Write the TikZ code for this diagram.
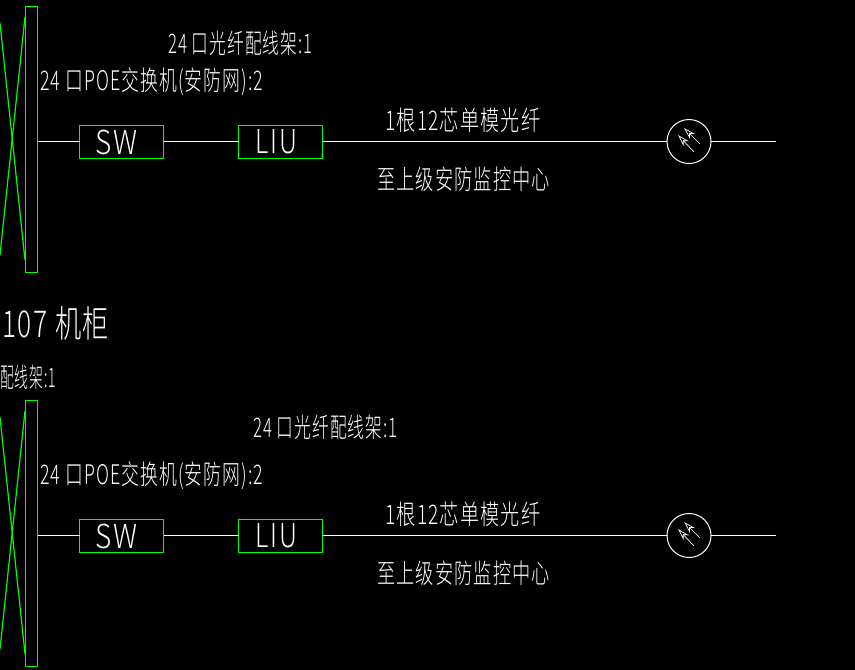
\documentclass[tikz,border=0pt]{standalone}
\usepackage{fontspec}
\newfontfamily\cadfont[LetterSpace=6]{Noto Sans CJK SC Light}
\usetikzlibrary{arrows.meta}
\begin{document}
\begin{tikzpicture}[x=1pt,y=-1pt,white,line width=1pt,
       rack/.style={rectangle,draw=cadgreen,minimum width=12pt,minimum height=266pt,inner sep=0pt,outer sep=0pt},
       unit/.style={rectangle,draw=cadgreen,minimum width=84pt,minimum height=33pt,inner sep=0pt,outer sep=0pt},
       port/.style={circle,draw=white,minimum size=44pt,inner sep=0pt,outer sep=0pt},
       note/.style={anchor=west,inner sep=0pt,text=white,font=\cadfont\fontsize{27}{27}\selectfont},
       tag/.style={inner sep=0pt,text=white,font=\cadfont\fontsize{33}{33}\selectfont},
       cross/.style={draw=cadgreen,line width=1.2pt},
       ray/.style={-{Stealth[open,length=12pt,width=7pt]},line width=.7pt}]
   \definecolor{cadgreen}{RGB}{0,255,0}
   \clip (0,0) rectangle (855,670);
   \fill[black] (0,0) rectangle (855,670);
   % the two identical rows
   \foreach \row/\rowy in {a/0,b/394}{
     \begin{scope}[yshift=-\rowy pt]
       \node [rack] (rack\row) at (31.5,139.3) {};
       \node [unit] (sw\row) at (121.5,141.5) {};
       \node [unit] (liu\row) at (280.5,141.5) {};
       \node [tag,xscale=.85] (swtext\row) at (116.5,142) {SW};
       \node [tag,xscale=.77] (liutext\row) at (276.5,142) {LIU};
       \node [port] (port\row) at (689,141.5) {};
       \coordinate (end\row) at (776,141.5);
       \draw (rack\row.east |- sw\row) -- (sw\row);
       \draw (sw\row) -- (liu\row);
       \draw (liu\row) -- (port\row);
       \draw (port\row) -- (end\row);
       \coordinate (raya\row) at (700,144);
       \coordinate (tipa\row) at (684,128);
       \coordinate (rayb\row) at (694,152);
       \coordinate (tipb\row) at (678,135);
       \draw [ray] (raya\row) -- (tipa\row);
       \draw [ray] (rayb\row) -- (tipb\row);
       \coordinate (xa\row) at (0,23);
       \coordinate (xb\row) at (25,260);
       \coordinate (xc\row) at (25,17);
       \coordinate (xd\row) at (0,255);
       \draw [cross] (xa\row) -- (xb\row);
       \draw [cross] (xc\row) -- (xd\row);
       \node [note,xscale=.66] (poe\row) at (40,82) {24 口POE交换机(安防网):2};
       \node [note,xscale=.71] (fibre\row) at (385,120) {1根12芯单模光纤};
       \node [note,xscale=.675] (center\row) at (377,179) {至上级安防监控中心};
     \end{scope}
   }
   \node [note,xscale=.62] (liua) at (168,43) {24 口光纤配线架:1};
   \node [note,xscale=.62] (liub) at (253,427) {24 口光纤配线架:1};
   \node [note,xscale=.51] (liuc) at (0,377) {配线架:1};
   \node [tag,anchor=west,font=\cadfont\fontsize{37}{37}\selectfont,xscale=.71] (cabinet) at (2,323) {107 机柜};
\end{tikzpicture}
\end{document}
